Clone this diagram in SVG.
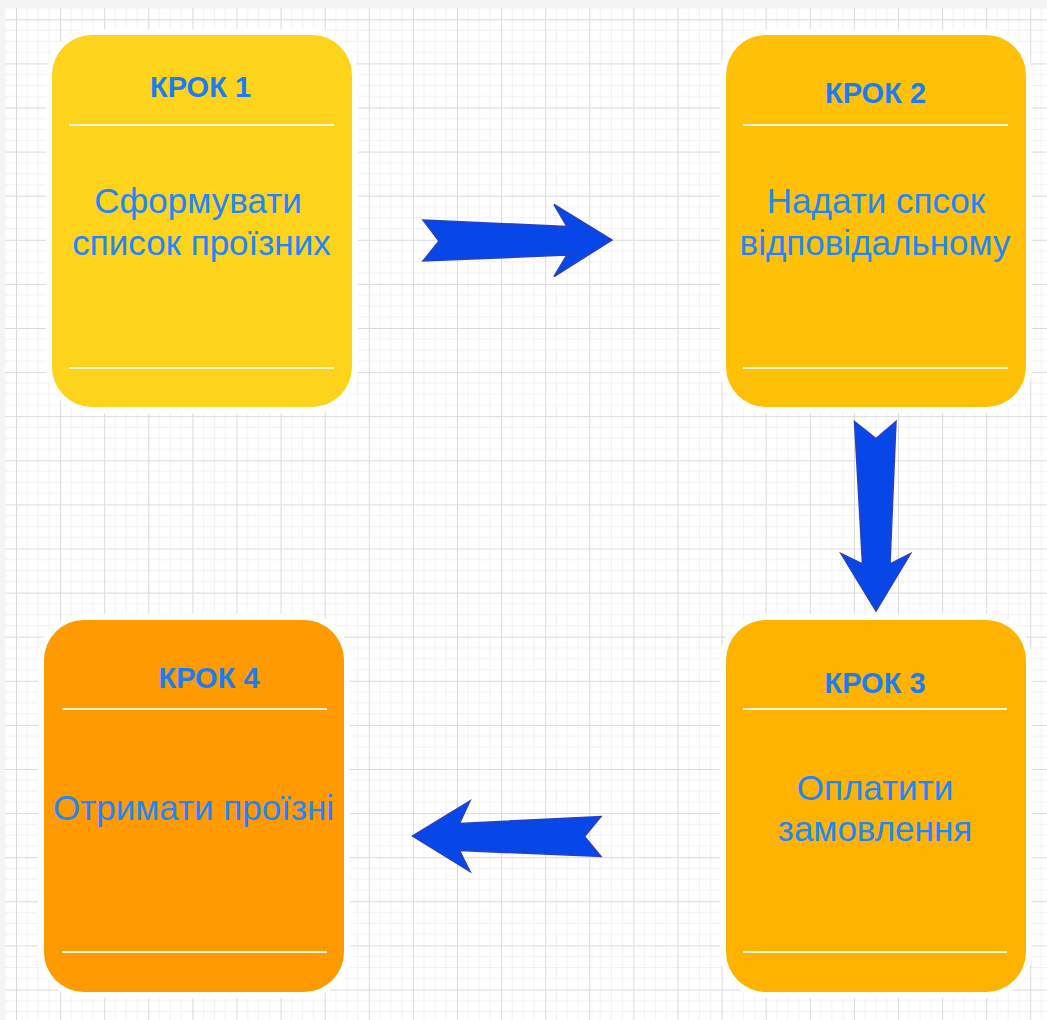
<svg xmlns="http://www.w3.org/2000/svg" width="1047" height="1020" viewBox="0 0 1047 1020">
  <style>
    .box { stroke: #ffffff; stroke-width: 12; paint-order: stroke; }
    .sep { stroke: #fff6d6; stroke-width: 2; fill: none; }
    .lbl { font-family: "Liberation Sans", Arial, sans-serif; font-weight: bold; font-size: 29px; fill: #1a7cf6; text-anchor: middle; }
    .body { font-family: "Liberation Sans", Arial, sans-serif; font-size: 35px; fill: #2185ff; text-anchor: middle; }
    .arrow { fill: #0747e8; stroke: #2a40c4; stroke-width: 1.5; stroke-linejoin: miter; }
  </style>
  <defs>
    <pattern id="grid" patternUnits="userSpaceOnUse" x="16" y="19.3" width="44.1" height="44.1">
      <path d="M11.025 0V44.1M22.05 0V44.1M33.075 0V44.1M0 11.025H44.1M0 22.05H44.1M0 33.075H44.1" stroke="#f1f1f1" stroke-width="1" fill="none"/>
      <path d="M0.5 0V44.1M0 0.5H44.1" stroke="#dadada" stroke-width="1" fill="none"/>
    </pattern>
  </defs>
  <rect x="0" y="0" width="1047" height="1020" fill="#f4f4f4"/>
  <rect x="5" y="8" width="1042" height="1012" fill="#ffffff"/>
  <rect x="5" y="8" width="1042" height="1012" fill="url(#grid)"/>

  <g id="connectors">
    <path id="arrow-1-2" class="arrow" d="M423 220 L567 226.5 L554 204.5 L612 240 L554 276.5 L567 255 L423 261 L439 241 Z"/>
    <path id="arrow-2-3" class="arrow" d="M854.5 421.5 L876 438.5 L896 421.5 L890 564 L910.5 553.5 L876 611 L841 553.5 L862.5 564 Z"/>
    <path id="arrow-3-4" class="arrow" d="M601 816.5 L584.5 836.5 L601 856.5 L459.5 850.5 L470 871.5 L412.5 836 L470 801 L459.5 823.5 Z"/>
  </g>

  <g id="node-1">
    <rect class="box" x="52" y="35" width="300" height="372" rx="40" ry="40" fill="#fed31b"/>
    <line class="sep" x1="69" y1="125" x2="334" y2="125"/>
    <line class="sep" x1="69" y1="368" x2="334" y2="368"/>
    <text class="lbl" x="200.5" y="97">КРОК 1</text>
    <text class="body" x="198" y="213">Сформувати</text>
    <text class="body" x="201.5" y="255">список проїзних</text>
  </g>

  <g id="node-2">
    <rect class="box" x="726" y="35" width="300" height="372" rx="40" ry="40" fill="#ffc107"/>
    <line class="sep" x1="743" y1="125" x2="1008" y2="125"/>
    <line class="sep" x1="743" y1="368" x2="1008" y2="368"/>
    <text class="lbl" x="875.5" y="103">КРОК 2</text>
    <text class="body" x="876" y="213">Надати спсок</text>
    <text class="body" x="875" y="255">відповідальному</text>
  </g>

  <g id="node-3">
    <rect class="box" x="726" y="620" width="300" height="372" rx="40" ry="40" fill="#ffb300"/>
    <line class="sep" x1="743" y1="709" x2="1007" y2="709"/>
    <line class="sep" x1="743" y1="952" x2="1007" y2="952"/>
    <text class="lbl" x="875" y="693">КРОК 3</text>
    <text class="body" x="875" y="800">Оплатити</text>
    <text class="body" x="875" y="841">замовлення</text>
  </g>

  <g id="node-4">
    <rect class="box" x="44" y="620" width="300" height="372" rx="40" ry="40" fill="#ff9a00"/>
    <line class="sep" x1="62" y1="709" x2="327" y2="709"/>
    <line class="sep" x1="62" y1="952" x2="327" y2="952"/>
    <text class="lbl" x="209" y="688">КРОК 4</text>
    <text class="body" x="193.5" y="820">Отримати проїзні</text>
  </g>
</svg>
